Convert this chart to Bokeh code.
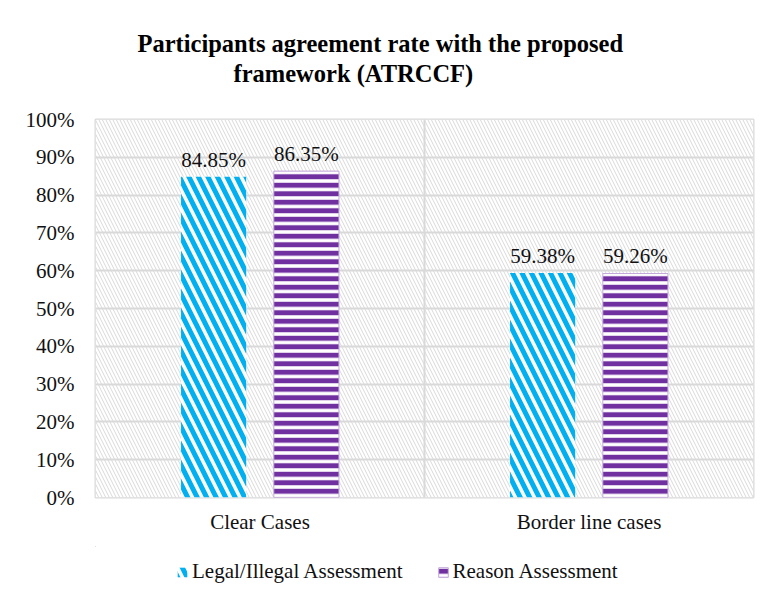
from bokeh.plotting import figure
from bokeh.layouts import column
from bokeh.models import (ColumnDataSource, Range1d, FixedTicker, BoxAnnotation, Legend,
                          LegendItem, LabelSet, PrintfTickFormatter, Label)
from bokeh.embed import file_html
from bokeh.resources import INLINE

categories = ["Clear Cases", "Border line cases"]
legal_values = [84.85, 59.38]
reason_values = [86.35, 59.26]
series_names = ["Legal/Illegal Assessment", "Reason Assessment"]
y_ticks = [0, 10, 20, 30, 40, 50, 60, 70, 80, 90, 100]
title_lines = ["Participants agreement rate with the proposed", "framework (ATRCCF)"]

FONT = "Liberation Serif"
GRID = "#d9d9d9"
BLUE = "#00B0F0"
PURPLE = "#7030A0"
TXT = "#111111"
W = 765
BL, BR = 95, 12
FRAME_W = W - BL - BR

centers = [i + 0.5 for i in range(len(categories))]
off = 0.141
bw = 0.198

legal_style = dict(fill_color="white", line_alpha=0,
                   hatch_pattern="\\", hatch_color=BLUE, hatch_scale=19, hatch_weight=5)
reason_style = dict(fill_color="white", line_color="#c3a9db", line_width=1,
                    hatch_pattern="-", hatch_color=PURPLE, hatch_scale=8.5, hatch_weight=5)

src_legal = ColumnDataSource(dict(
    x=[c - off for c in centers], top=legal_values,
    label=[f"{v:.2f}%" for v in legal_values]))
src_reason = ColumnDataSource(dict(
    x=[c + off for c in centers], top=reason_values,
    label=[f"{v:.2f}%" for v in reason_values]))

# ---------- title strip (x in frame pixels, y in pixels from top) ----------
pt = figure(width=W, height=95, x_range=Range1d(0, FRAME_W), y_range=Range1d(95, 0),
            x_axis_location=None, y_axis_location=None, output_backend="svg",
            toolbar_location=None, min_border_left=BL, min_border_right=BR,
            min_border_top=0, min_border_bottom=0)
pt.outline_line_color = None
pt.grid.visible = False
for txt, x, y in ((title_lines[0], 42, 43), (title_lines[1], 138, 73)):
    pt.add_layout(Label(x=x, y=y, text=txt, text_align="left", text_baseline="alphabetic",
                        text_font=FONT, text_font_size="24.5px", text_font_style="bold",
                        text_color="black"))

# ---------- main chart ----------
p = figure(width=W, height=451, x_range=Range1d(0, len(categories)), y_range=Range1d(0, 100),
           output_backend="svg", toolbar_location=None,
           min_border_left=BL, min_border_right=BR, min_border_top=24, min_border_bottom=49)

bg = BoxAnnotation(fill_color="white", fill_alpha=1, hatch_pattern="\\", hatch_color=GRID,
                   hatch_scale=7, hatch_weight=1, line_alpha=0, level="image")
p.add_layout(bg)

r1 = p.vbar(x="x", top="top", width=bw, source=src_legal, **legal_style)
r2 = p.vbar(x="x", top="top", width=bw, source=src_reason, **reason_style)

for s in (src_legal, src_reason):
    p.add_layout(LabelSet(x="x", y="top", text="label", source=s, text_align="center",
                          text_baseline="bottom", y_offset=5, text_font=FONT,
                          text_font_size="21px", text_color=TXT))

p.outline_line_color = GRID
p.outline_line_width = 2

p.yaxis.ticker = FixedTicker(ticks=y_ticks)
p.yaxis.formatter = PrintfTickFormatter(format="%d%%")
p.xaxis.ticker = FixedTicker(ticks=centers)
p.xaxis.major_label_overrides = {c: n for c, n in zip(centers, categories)}
for ax in (p.xaxis, p.yaxis):
    ax.axis_line_color = None
    ax.major_tick_line_color = None
    ax.minor_tick_line_color = None
    ax.major_label_text_font = FONT
    ax.major_label_text_font_size = "21px"
    ax.major_label_text_color = TXT
p.yaxis.major_label_standoff = 15
p.xaxis.major_label_standoff = 6

p.ygrid.ticker = FixedTicker(ticks=y_ticks)
p.ygrid.grid_line_color = GRID
p.ygrid.grid_line_width = 2
p.xgrid.ticker = FixedTicker(ticks=[1])
p.xgrid.grid_line_color = GRID
p.xgrid.grid_line_width = 2

# ---------- legend strip (same series, kept far out of view; only the legend shows) ----------
pl = figure(width=W, height=50, x_range=Range1d(100, 101), y_range=Range1d(-200, -199),
            x_axis_location=None, y_axis_location=None, output_backend="svg",
            toolbar_location=None, min_border_left=BL, min_border_right=BR,
            min_border_top=0, min_border_bottom=0)
pl.outline_line_color = None
pl.grid.visible = False
lr1 = pl.vbar(x="x", top="top", width=bw, source=src_legal, **legal_style)
lr2 = pl.vbar(x="x", top="top", width=bw, source=src_reason, **reason_style)
legend = Legend(items=[LegendItem(label=series_names[0], renderers=[lr1]),
                       LegendItem(label=series_names[1], renderers=[lr2])],
                orientation="horizontal", location=(77, 8),
                border_line_alpha=0, background_fill_alpha=0,
                label_text_font=FONT, label_text_font_size="21px", label_text_color=TXT,
                glyph_width=12, glyph_height=12, spacing=34, label_standoff=4,
                margin=0, padding=4)
pl.add_layout(legend)

layout = column(pt, p, pl, spacing=0)
open("out.html", "w").write(file_html(layout, INLINE))
